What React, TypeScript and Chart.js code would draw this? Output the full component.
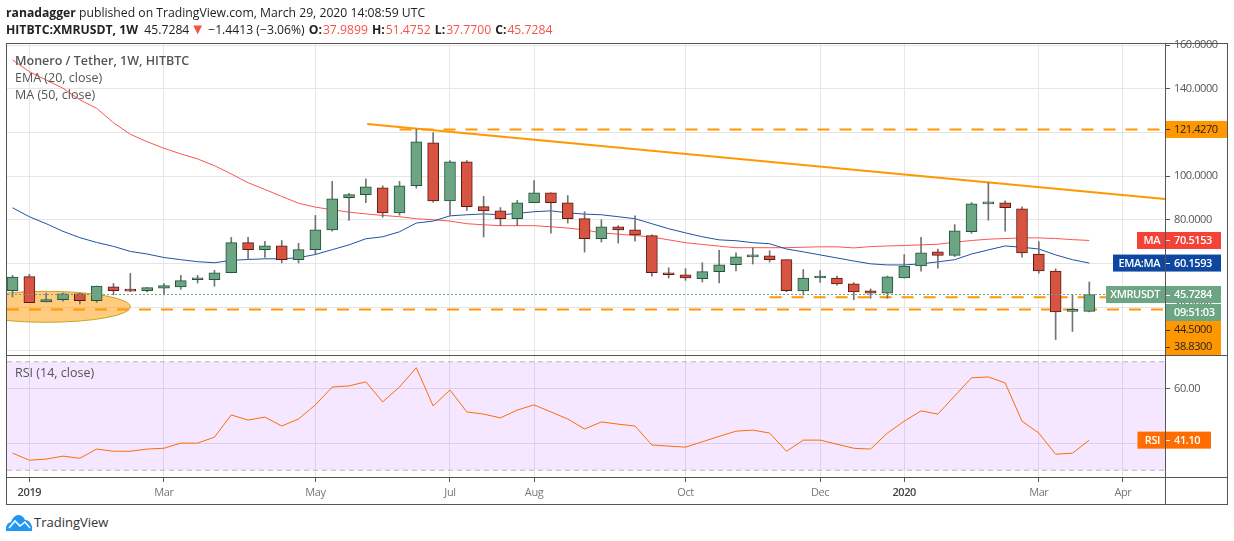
import React, { useEffect, useRef } from "react";
import { Chart, registerables } from "chart.js";

Chart.register(...registerables);

const candleOpen = [47.5,53.9,42.3,43.4,46.1,42.9,49.3,47.9,47.5,48.7,49.2,52.5,52.5,55.7,69.5,66.3,68.1,61.7,66.3,75.3,90.1,91.5,94.7,83.2,95.6,115.3,88.7,106.6,86,84.1,80.5,87.8,92.4,87.8,80.5,71.3,76.8,75.4,72.7,55.7,54.8,53,56.2,59.4,63,63.5,61.7,47.4,53.3,53.3,50.6,47.4,46.3,53.3,58.8,65.3,63.7,74.5,87.3,87.8,85,64.3,56.5,38,37.9899];
const candleClose = [53.7,42,43.4,46.1,42.9,49.6,47.5,47.3,48.9,49.8,52.1,52.6,55.7,69.5,66.3,68.1,61.7,66.3,75.4,89.6,91.5,95.1,83.2,95.6,115.7,88.7,106.6,86,84.1,80.5,87.8,92.4,87.8,80.5,71.3,76.8,75.4,73.1,55.7,54.8,53.4,56.2,59.4,63,63.5,61.7,47.5,53.3,53.6,50.6,46.9,46.3,53.8,58.8,64.8,63.7,74.9,87.3,87.6,85.5,64.8,56.5,37.7,38.2,45.7284];
const candleHigh = [54.5,55,46.4,46.4,46.4,49.6,50.8,55.4,48.9,50.8,54.5,54.5,56.8,71.9,71.9,70.1,70.5,69.2,82,97.6,92.1,98.8,95.6,97.6,121.5,120,107.2,107.2,90.7,85.6,88.9,98,92.4,91.1,83.7,80,77.3,81.8,73.1,58,57.6,60.3,66,64.9,67.2,65.8,61.7,57.2,56.7,54.2,51.2,48.3,54.2,64,71.9,66.6,77.8,87.9,97.1,88.7,85.9,70,57.5,45.5,51.4752];
const candleLow = [44.6,42,42.3,42.7,41.4,42.1,45.6,47,46.9,45.6,48.1,51,49.5,55.7,61.7,62.7,60.2,60.2,64.1,74.8,79.7,87.9,81.2,82.1,94.5,88.1,82,84.3,72.1,77.3,77.3,87.8,73.9,78.5,65.2,69.8,69.3,70.2,54.2,53.3,52.2,51.5,51,56.5,59.7,60.6,47,45.5,51.3,50,43.4,44,44,53.3,56.4,57.8,63.1,73.8,79.8,74.8,62.8,55.5,25.1,28.8,37.77];
const emaValues = [85.5,81.4,78.2,74.7,71.8,69.6,67.8,65.5,64.3,62.7,61.7,60.8,60.3,61.4,61.8,62.1,62.1,62.6,64.1,66.3,68.5,71.3,72.2,74.5,78.5,79.4,81.8,82.3,82.7,82.3,82.9,83.7,84.1,83.2,82.6,82.3,81.4,80.5,78.2,75.9,74,72.2,70.8,70.4,69.5,69,66.6,65.3,63.9,62.5,61.1,59.8,59.3,59.3,59.8,60.7,61.7,64.3,66.2,68,67.4,66.6,63.9,61.7,60.1593];
const maValues = [153.3,147.9,144.1,140.3,135,131.1,124.5,119.2,115.8,112.8,110.2,107.9,104.8,101,97,93.9,90.7,87.6,85.8,84.6,83.5,82.7,82,81.4,80.5,80,79.4,78.2,77.7,77.3,77.3,77.3,76.8,76.2,75.4,74,73.4,72.8,72.1,70.8,69.5,68.7,67.9,67.2,67.2,67.2,67.2,67.4,67.6,67.6,67.1,67.7,68,68.2,68.5,68.8,69.7,70.5,71.1,71.4,71.7,71.7,71.4,70.9,70.5153];
const rsiValues = [36.3,33.7,34.1,35.2,34.4,37.8,37,37,37.8,38.1,40,40,42.2,50.4,48.5,49.6,46.3,48.9,54.1,60.7,61.1,62.6,55.2,60.7,67.8,53.7,59.6,51.5,50.7,49.3,52.2,54.1,51.5,48.9,45.2,47.8,47,46.3,39.3,38.9,38.5,40.5,42.5,44.4,44.8,43.7,37,41.1,41.1,39.6,38.1,37.8,43.7,48.1,51.9,50.7,57.4,64.1,64.4,62.2,48.1,43.7,35.9,36.3,41.1];

const timeTickIndex = [1, 9, 18, 26, 31, 40, 48, 53, 61, 66];
const timeTickLabels = ["2019", "Mar", "May", "Jul", "Aug", "Oct", "Dec", "2020", "Mar", "Apr"];
const boldTimeLabels = ["2019", "2020"];
const priceTicks = [160, 140, 120, 100, 80, 60, 40, 20];
const rsiTicks = [60, 40];
const trendX = [21.08, 68.5];
const trendY = [123.9, 89.5];
const resistanceLevel = 121.427;
const resistanceX = [23, 68.5];
const midSupportLevel = 44.5;
const midSupportX = [45, 68.5];
const lowSupportLevel = 38.83;
const lowSupportX = [-0.33, 68.5];
const lastPrice = 45.7284;
const lastPriceX = [-0.33, 65];
const ellipseCentre = [2, 40.1];
const ellipseRadii = [5.0, 7.1];
const xMin = -0.33;
const xMax = 68.5;
const rsiBandTop = 70;
const rsiBandBottom = 30;

const FONT = '"Open Sans", "Noto Sans", sans-serif';
const UP = "#6ba583";
const DOWN = "#d75442";
const UP_EDGE = "#225437";
const DOWN_EDGE = "#5b1a13";
const WICK = "#737375";
const GRID = "#e6e6e6";
const AXIS = "#555555";
const ORANGE = "#ff9800";
const AXIS_W = 69;

const indices = candleOpen.map((_, i) => i);
const isUp = indices.map((i) => candleClose[i] >= candleOpen[i]);
const pts = (vals: number[]) => vals.map((y, i) => ({ x: i, y }));
const seg = (xs: number[], a: number, b: number) => [{ x: xs[0], y: a }, { x: xs[1], y: b }];

type Tag = { y: number; x0: number; x1: number; bg: string; fg: string; text: string; name?: string; tick?: boolean };

function drawTags(chart: any, tags: Tag[]) {
  const ctx = chart.ctx;
  ctx.save();
  ctx.textBaseline = "middle";
  for (const t of tags) {
    ctx.fillStyle = t.bg;
    ctx.fillRect(t.x0, t.y - 8.5, t.x1 - t.x0, 17);
    if (t.tick !== false) {
      ctx.fillStyle = t.fg === "#ffffff" ? "#ffffff" : "#333333";
      ctx.fillRect(1165, Math.round(t.y), 5, 1);
    }
    ctx.font = `${t.fg === "#ffffff" ? "600 " : ""}11px ${FONT}`;
    ctx.fillStyle = t.fg;
    ctx.textAlign = "left";
    ctx.fillText(t.text, 1174, t.y + 0.5);
    if (t.name) {
      ctx.textAlign = "right";
      ctx.fillText(t.name, 1160, t.y + 0.5);
    }
  }
  ctx.restore();
}

const tightText = {
  id: "tightText",
  beforeDraw(chart: any) {
    chart.ctx.letterSpacing = "-0.4px";
  },
};

const xAxisBase = (showLabels: boolean): any => ({
  type: "linear",
  min: xMin,
  max: xMax,
  offset: false,
  border: { display: false },
  afterBuildTicks: (s: any) => {
    s.ticks = timeTickIndex.map((value) => ({ value }));
  },
  grid: {
    offset: false,
    color: GRID,
    lineWidth: 1,
    drawTicks: showLabels,
    tickLength: 5,
    tickColor: AXIS,
  },
  ticks: {
    display: showLabels,
    autoSkip: false,
    maxRotation: 0,
    padding: 4,
    color: (c: any) => (boldTimeLabels.includes(timeTickLabels[timeTickIndex.indexOf(c.tick?.value)]) ? "#444444" : "#777777"),
    font: (c: any) => ({
      family: FONT,
      size: 11,
      weight: boldTimeLabels.includes(timeTickLabels[timeTickIndex.indexOf(c.tick?.value)]) ? "600" : "normal",
    }),
    callback: (v: number) => timeTickLabels[timeTickIndex.indexOf(v)] ?? "",
  },
});

const yAxisBase = (min: number, max: number, ticks: number[], fmt: number): any => ({
  type: "linear",
  position: "right",
  min,
  max,
  border: { display: false },
  afterBuildTicks: (s: any) => {
    s.ticks = ticks.map((value) => ({ value }));
  },
  afterFit: (s: any) => {
    s.width = AXIS_W;
    s.paddingTop = 0;
    s.paddingBottom = 0;
  },
  grid: { color: GRID, lineWidth: 1, tickLength: 5, tickColor: AXIS },
  ticks: {
    autoSkip: false,
    padding: 4,
    color: "#555555",
    font: { family: FONT, size: 11 },
    callback: (v: number) => Number(v).toFixed(fmt),
  },
});

const flatX = (h: number) => (s: any) => {
  s.height = h;
  s.paddingLeft = 0;
  s.paddingRight = 0;
};

const lineStyle = { type: "line", pointRadius: 0, borderWidth: 1, tension: 0, fill: false } as any;

export default function App() {
  const priceRef = useRef<HTMLCanvasElement>(null);
  const rsiRef = useRef<HTMLCanvasElement>(null);

  useEffect(() => {
    const ellipsePlugin = {
      id: "ellipse",
      beforeDatasetsDraw(chart: any) {
        const { ctx, chartArea: a, scales } = chart;
        const cx = scales.x.getPixelForValue(ellipseCentre[0]);
        const cy = scales.y.getPixelForValue(ellipseCentre[1]);
        const rx = scales.x.getPixelForValue(ellipseCentre[0] + ellipseRadii[0]) - cx;
        const ry = cy - scales.y.getPixelForValue(ellipseCentre[1] + ellipseRadii[1]);
        ctx.save();
        ctx.beginPath();
        ctx.rect(a.left, a.top, a.right - a.left, a.bottom - a.top);
        ctx.clip();
        ctx.beginPath();
        ctx.ellipse(cx, cy, rx, ry, 0, 0, Math.PI * 2);
        ctx.fillStyle = "rgba(255,152,0,0.5)";
        ctx.fill();
        ctx.strokeStyle = "#c9a227";
        ctx.lineWidth = 1;
        ctx.stroke();
        ctx.restore();
      },
    };
    const priceTags = {
      id: "priceTags",
      afterDraw(chart: any) {
        const y = chart.scales.y;
        const px = (v: number) => y.getPixelForValue(v);
        drawTags(chart, [
          { y: px(resistanceLevel), x0: 1165, x1: 1227, bg: ORANGE, fg: "#222222", text: "121.4270" },
          { y: px(maValues[64]), x0: 1137, x1: 1221, bg: "#f44336", fg: "#ffffff", text: "70.5153", name: "MA" },
          { y: px(emaValues[64]), x0: 1113, x1: 1221, bg: "#0d47a1", fg: "#ffffff", text: "60.1593", name: "EMA:MA" },
          { y: 329.5, x0: 1165, x1: 1221, bg: ORANGE, fg: "#222222", text: "44.5000" },
          { y: 346.5, x0: 1165, x1: 1221, bg: ORANGE, fg: "#222222", text: "38.8300" },
          { y: px(lastPrice), x0: 1106, x1: 1221, bg: UP, fg: "#ffffff", text: "45.7284", name: "XMRUSDT" },
          { y: 312.5, x0: 1165, x1: 1221, bg: UP, fg: "#ffffff", text: "09:51:03", tick: false },
        ]);
      },
    };
    const priceChart = new Chart(priceRef.current as HTMLCanvasElement, {
      type: "bar",
      data: {
        datasets: [
          { ...lineStyle, label: "Last", data: seg(lastPriceX, lastPrice, lastPrice), borderColor: UP, borderDash: [2, 2], order: 0 },
          { type: "bar", label: "Body", data: indices.map((i) => ({ x: i, y: [candleOpen[i], candleClose[i]] })), backgroundColor: indices.map((i) => (isUp[i] ? UP : DOWN)), borderColor: indices.map((i) => (isUp[i] ? UP_EDGE : DOWN_EDGE)), borderWidth: 1, barThickness: 11, minBarLength: 2, grouped: false, order: 1, borderSkipped: false } as any,
          { type: "bar", label: "Wick", data: indices.map((i) => ({ x: i, y: [candleLow[i], candleHigh[i]] })), backgroundColor: WICK, borderWidth: 0, barThickness: 1, grouped: false, order: 2 } as any,
          { ...lineStyle, label: "Trend", data: seg(trendX, trendY[0], trendY[1]), borderColor: ORANGE, borderWidth: 2, order: 3 },
          { ...lineStyle, label: "Resistance", data: seg(resistanceX, resistanceLevel, resistanceLevel), borderColor: ORANGE, borderWidth: 2, borderDash: [12, 10], order: 4 },
          { ...lineStyle, label: "Mid support", data: seg(midSupportX, midSupportLevel, midSupportLevel), borderColor: ORANGE, borderWidth: 2, borderDash: [12, 10], order: 4 },
          { ...lineStyle, label: "Low support", data: seg(lowSupportX, lowSupportLevel, lowSupportLevel), borderColor: ORANGE, borderWidth: 2, borderDash: [12, 10], order: 4 },
          { ...lineStyle, label: "EMA (20, close)", data: pts(emaValues), borderColor: "#1e53a5", order: 5 },
          { ...lineStyle, label: "MA (50, close)", data: pts(maValues), borderColor: "#ff5252", order: 6 },
        ] as any,
      },
      options: {
        animation: false,
        responsive: false,
        devicePixelRatio: 1,
        layout: { padding: { left: 7, top: 44, right: 0, bottom: 0 } },
        plugins: { legend: { display: false }, tooltip: { enabled: false } },
        scales: {
          x: { ...xAxisBase(false), afterFit: flatX(0) },
          y: yAxisBase(18, 160.6, priceTicks, 4),
        },
      } as any,
      plugins: [tightText, ellipsePlugin, priceTags],
    });

    const rsiBand = {
      id: "rsiBand",
      beforeDatasetsDraw(chart: any) {
        const { ctx, chartArea: a, scales } = chart;
        const t = scales.y.getPixelForValue(rsiBandTop);
        const b = scales.y.getPixelForValue(rsiBandBottom);
        ctx.save();
        ctx.fillStyle = "rgba(153,21,255,0.1)";
        ctx.fillRect(a.left, t, a.right - a.left, b - t);
        ctx.restore();
      },
      afterDraw(chart: any) {
        const y = chart.scales.y;
        drawTags(chart, [
          { y: y.getPixelForValue(rsiValues[64]), x0: 1137.5, x1: 1211, bg: "#ff6d00", fg: "#ffffff", text: rsiValues[64].toFixed(2), name: "RSI" },
        ]);
      },
    };
    const rsiChart = new Chart(rsiRef.current as HTMLCanvasElement, {
      type: "line",
      data: {
        datasets: [
          { ...lineStyle, label: "RSI (14, close)", data: pts(rsiValues), borderColor: "#ff6d00" },
          { ...lineStyle, label: "Upper", data: seg([xMin, xMax], rsiBandTop, rsiBandTop), borderColor: "#b9b3c2", borderDash: [5, 4] },
          { ...lineStyle, label: "Lower", data: seg([xMin, xMax], rsiBandBottom, rsiBandBottom), borderColor: "#b9b3c2", borderDash: [5, 4] },
        ] as any,
      },
      options: {
        animation: false,
        responsive: false,
        devicePixelRatio: 1,
        layout: { padding: { left: 7, top: 0, right: 0, bottom: 0 } },
        plugins: { legend: { display: false }, tooltip: { enabled: false } },
        scales: {
          x: { ...xAxisBase(true), afterFit: flatX(28) },
          y: yAxisBase(27.5, 72.5, rsiTicks, 2),
        },
      } as any,
      plugins: [tightText, rsiBand],
    });

    return () => {
      priceChart.destroy();
      rsiChart.destroy();
    };
  }, []);

  const red = "#f6524b";
  const abs = (left: number, top: number, extra: React.CSSProperties = {}): React.CSSProperties => ({
    position: "absolute",
    left,
    top,
    whiteSpace: "nowrap",
    lineHeight: "17px",
    ...extra,
  });
  const rule = (left: number, top: number, width: number, height: number): React.CSSProperties => ({
    position: "absolute",
    left,
    top,
    width,
    height,
    background: AXIS,
  });
  const key = { marginLeft: 4, marginRight: 1 };

  return (
    <div style={{ position: "absolute", left: 0, top: 0, width: 1234, height: 541, background: "#fff", fontFamily: FONT, overflow: "hidden", color: "#222" }}>
      <canvas ref={priceRef} width={1234} height={355} style={{ position: "absolute", left: 0, top: 0, width: 1234, height: 355 }} />
      <canvas ref={rsiRef} width={1234} height={150} style={{ position: "absolute", left: 0, top: 355, width: 1234, height: 150 }} />

      <div style={rule(6, 43, 1222, 1)} />
      <div style={rule(6, 43, 1, 461)} />
      <div style={rule(1227, 43, 1, 461)} />
      <div style={rule(6, 504, 1222, 1)} />
      <div style={rule(6, 355, 1222, 1)} />
      <div style={rule(6, 477, 1222, 1)} />
      <div style={rule(1165, 43, 1, 461)} />

      <div style={abs(6, 4, { fontSize: 12.2 })}>
        <b>ranadagger</b> published on TradingView.com, March 29, 2020 14:08:59 UTC
      </div>
      <div style={abs(6, 21, { fontSize: 12.2 })}>
        <b>HITBTC:XMRUSDT, 1W</b>&nbsp; 45.7284
        <span style={{ color: red, fontSize: 15, lineHeight: "10px", margin: "0 3px 0 1px" }}>▼</span>
        −1.4413 (−3.06%)<b style={key}>O:</b>
        <span style={{ color: red }}>37.9899</span><b style={key}>H:</b>
        <span style={{ color: red }}>51.4752</span><b style={key}>L:</b>
        <span style={{ color: red }}>37.7700</span><b style={key}>C:</b>
        <span style={{ color: red }}>45.7284</span>
      </div>

      <div style={abs(15, 52, { fontSize: 12.5, fontWeight: 600, color: "#555" })}>Monero / Tether, 1W, HITBTC</div>
      <div style={abs(15, 69, { fontSize: 12.5, color: "#555" })}>EMA (20, close)</div>
      <div style={abs(15, 86, { fontSize: 12.5, color: "#555" })}>MA (50, close)</div>
      <div style={abs(15, 364, { fontSize: 12.5, color: "#555" })}>RSI (14, close)</div>

      <svg width="27" height="16" viewBox="0 0 27 16" style={{ position: "absolute", left: 6, top: 515 }}>
        <path d="M0 16 L0 12 Q1 8 5 7 Q7 1 12 0 Q17 0 19 5 Q23 5 25 9 Q27 12 26 16 Z" fill="#2196f3" />
        <path d="M3 13 L9 6 L14 11 L19 7 L24 13" fill="none" stroke="#fff" strokeWidth="1.6" />
      </svg>
      <div style={abs(34, 514, { fontSize: 13, color: "#333" })}>TradingView</div>
    </div>
  );
}
